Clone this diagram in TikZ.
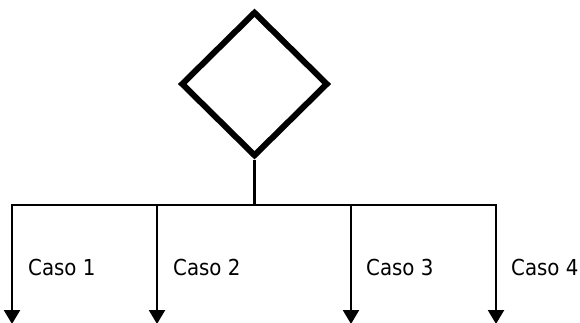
\documentclass[tikz,border=0pt]{standalone}
\usepackage{fontspec}
\setmainfont{DejaVu Sans Condensed}
\usetikzlibrary{shapes.geometric,arrows.meta}
\begin{document}
\begin{tikzpicture}[x=1pt,y=-1pt,
  decision/.style={diamond,draw,line width=6pt,inner sep=0pt,minimum width=147pt,minimum height=145pt,aspect=1},
  wire/.style={line width=2.2pt},
  branch/.style={line width=2.2pt,-{Triangle[width=16pt,length=14pt]}},
  caselabel/.style={anchor=west,inner sep=0pt,font=\fontsize{22}{26}\selectfont}]
\useasboundingbox (0,0) rectangle (580,322);
\node[decision] (d) at (254.5,84) {};
\coordinate (j) at (254.5,205);
\coordinate (c1) at (12,205);
\coordinate (c2) at (157,205);
\coordinate (c3) at (351,205);
\coordinate (c4) at (496,205);
\coordinate (e1) at (12,324);
\coordinate (e2) at (157,324);
\coordinate (e3) at (351,324);
\coordinate (e4) at (496,324);
\draw[wire] (d.south) -- (j);
\draw[wire] ([xshift=-1.1pt]c1) -- ([xshift=1.1pt]c4);
\draw[branch] (c1) -- (e1);
\draw[branch] (c2) -- (e2);
\draw[branch] (c3) -- (e3);
\draw[branch] (c4) -- (e4);
\node[caselabel] (l1) at (28,267) {Caso 1};
\node[caselabel] (l2) at (173,267) {Caso 2};
\node[caselabel] (l3) at (366,267) {Caso 3};
\node[caselabel] (l4) at (511,267) {Caso 4};
\end{tikzpicture}
\end{document}
